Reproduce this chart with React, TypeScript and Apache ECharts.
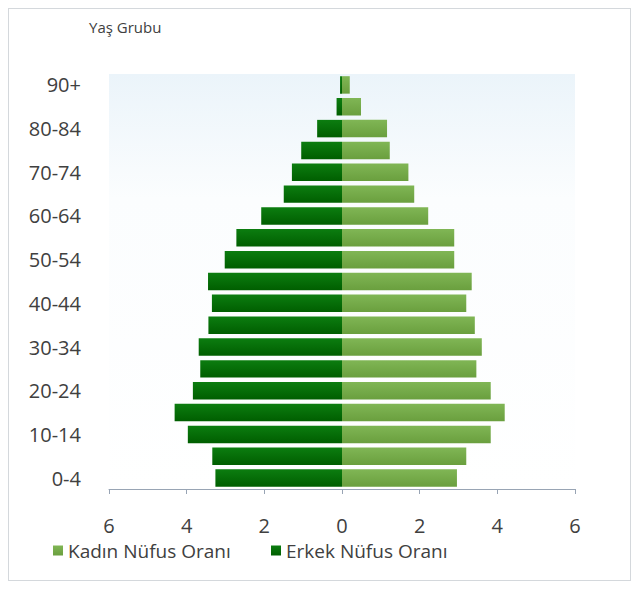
import React, { useEffect, useRef } from "react";
import * as echarts from "echarts";

const categories = ["0-4","5-9","10-14","15-19","20-24","25-29","30-34","35-39","40-44","45-49","50-54","55-59","60-64","65-69","70-74","75-79","80-84","85-89","90+"];
const maleValues = [3.26, 3.34, 3.97, 4.31, 3.84, 3.65, 3.69, 3.44, 3.35, 3.45, 3.02, 2.72, 2.08, 1.5, 1.29, 1.05, 0.64, 0.14, 0.05];
const femaleValues = [2.96, 3.2, 3.83, 4.19, 3.83, 3.46, 3.6, 3.42, 3.2, 3.34, 2.89, 2.89, 2.22, 1.86, 1.71, 1.23, 1.16, 0.49, 0.2];
const femaleName = "Kadın Nüfus Oranı";
const maleName = "Erkek Nüfus Oranı";
const yTitle = "Yaş Grubu";

const FONT = "'Open Sans', 'Noto Sans', sans-serif";

export default function App() {
  const ref = useRef<HTMLDivElement>(null);
  useEffect(() => {
    if (!ref.current) return;
    const chart = echarts.init(ref.current, undefined, { renderer: "svg" });
    const maleGrad = new echarts.graphic.LinearGradient(0, 0, 0, 1, [
      { offset: 0, color: "#0c7d10" },
      { offset: 1, color: "#005e00" },
    ]);
    const femaleGrad = new echarts.graphic.LinearGradient(0, 0, 0, 1, [
      { offset: 0, color: "#80b655" },
      { offset: 1, color: "#6a9f3e" },
    ]);
    chart.setOption({
      animation: false,
      backgroundColor: "#ffffff",
      textStyle: { fontFamily: FONT },
      graphic: [
        {
          type: "text",
          left: 80,
          top: 10,
          style: { text: yTitle, fontSize: 15, fill: "#404040", fontFamily: FONT },
        },
      ],
      legend: [
        {
          left: 44,
          top: 532,
          padding: 0,
          icon: "rect",
          itemWidth: 10,
          itemHeight: 10,
          data: [femaleName],
          textStyle: { fontSize: 19, color: "#404040", fontFamily: FONT },
          selectedMode: false,
        },
        {
          left: 262,
          top: 532,
          padding: 0,
          icon: "rect",
          itemWidth: 10,
          itemHeight: 10,
          data: [maleName],
          textStyle: { fontSize: 19, color: "#404040", fontFamily: FONT },
          selectedMode: false,
        },
      ],
      grid: {
        left: 100,
        top: 65,
        width: 466,
        height: 415,
        show: true,
        borderWidth: 0,
        backgroundColor: new echarts.graphic.LinearGradient(0, 0, 0, 1, [
          { offset: 0, color: "#ebf4fa" },
          { offset: 0.3, color: "#fbfdfe" },
          { offset: 1, color: "#ffffff" },
        ]),
      },
      xAxis: {
        type: "value",
        min: -6,
        max: 6,
        interval: 2,
        axisLine: { show: true, lineStyle: { color: "#98a4b4", width: 1 } },
        axisTick: { show: true, length: 5, lineStyle: { color: "#98a4b4" } },
        splitLine: { show: false },
        axisLabel: {
          formatter: (v: number) => String(Math.abs(v)),
          fontSize: 20,
          color: "#404040",
          margin: 26,
          fontFamily: FONT,
        },
      },
      yAxis: {
        type: "category",
        data: categories,
        axisLine: { show: false },
        axisTick: { show: false },
        axisLabel: {
          interval: 1,
          fontSize: 20,
          color: "#404040",
          margin: 28,
          fontFamily: FONT,
        },
      },
      series: [
        {
          name: maleName,
          type: "bar",
          stack: "pop",
          barCategoryGap: "20%",
          itemStyle: { color: maleGrad },
          data: maleValues.map((v) => -v),
        },
        {
          name: femaleName,
          type: "bar",
          stack: "pop",
          barCategoryGap: "20%",
          itemStyle: { color: femaleGrad },
          data: femaleValues,
        },
      ],
    });
    return () => chart.dispose();
  }, []);
  return (
    <div
      ref={ref}
      style={{
        width: 623,
        height: 573,
        boxSizing: "border-box",
        border: "1px solid #d4d8dc",
      }}
    />
  );
}
